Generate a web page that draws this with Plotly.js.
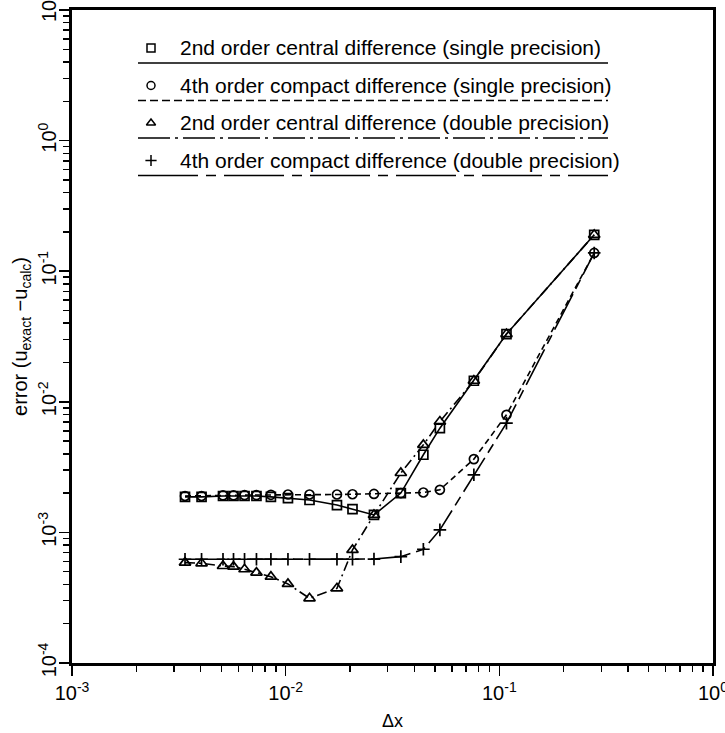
<!DOCTYPE html>
<html>
<head>
<meta charset="utf-8">
<script src="https://cdn.plot.ly/plotly-3.0.1.min.js"></script>
<style>
  html, body { margin: 0; padding: 0; background: #fff; }
  #chart { width: 725px; height: 733px; }
</style>
</head>
<body>
<div id="chart"></div>
<script>
// ---- data ----
const dx = [0.00338, 0.00404, 0.00509, 0.0057, 0.00642, 0.0073, 0.00853, 0.01025, 0.01293,
            0.01738, 0.02055, 0.0259, 0.0346, 0.0441, 0.0527, 0.076, 0.108, 0.278];

const err2ndSingle = [1.87e-3, 1.87e-3, 1.9e-3, 1.9e-3, 1.9e-3, 1.9e-3, 1.87e-3, 1.83e-3, 1.77e-3,
                      1.62e-3, 1.51e-3, 1.36e-3, 2.0e-3, 3.93e-3, 6.28e-3, 1.45e-2, 3.3e-2, 0.19];

const err4thSingle = [1.9e-3, 1.9e-3, 1.92e-3, 1.92e-3, 1.93e-3, 1.93e-3, 1.94e-3, 1.95e-3, 1.95e-3,
                      1.95e-3, 1.96e-3, 1.97e-3, 2.0e-3, 2.02e-3, 2.12e-3, 3.64e-3, 7.95e-3, 0.138];

const err2ndDouble = [5.87e-4, 5.8e-4, 5.53e-4, 5.47e-4, 5.22e-4, 4.92e-4, 4.58e-4, 4.03e-4, 3.13e-4,
                      3.73e-4, 7.34e-4, 1.36e-3, 2.85e-3, 4.68e-3, 7.06e-3, 1.45e-2, 3.3e-2, 0.19];

const err4thDouble = [6.23e-4, 6.23e-4, 6.23e-4, 6.23e-4, 6.23e-4, 6.23e-4, 6.23e-4, 6.23e-4, 6.23e-4,
                      6.23e-4, 6.23e-4, 6.25e-4, 6.52e-4, 7.43e-4, 1.045e-3, 2.76e-3, 6.87e-3, 0.138];

const seriesNames = [
  '2nd order central difference (single precision)',
  '4th order compact difference (single precision)',
  '2nd order central difference (double precision)',
  '4th order compact difference (double precision)'
];

const xTickVals = [0.001, 0.01, 0.1, 1];
const xTickText = ['10<sup>-3</sup>', '10<sup>-2</sup>', '10<sup>-1</sup>', '10<sup>0</sup>'];
const yTickVals = [1e-4, 1e-3, 1e-2, 1e-1, 1, 10];
const yTickText = ['10<sup>-4</sup>', '10<sup>-3</sup>', '10<sup>-2</sup>', '10<sup>-1</sup>', '10<sup>0</sup>', '10<sup>1</sup>'];

// ---- styles ----
const FONT = 'Liberation Sans, Arial, sans-serif';
const symbols = ['square-open', 'circle-open', 'triangle-up-open', 'cross-thin-open'];
const plotDash = ['solid', '6px,4px', '10px,4px,2px,4px', '40px,6px,10px,6px'];
const legendDash = ['solid', '8px,4px', '32px,5px,3px,5px', '60px,8px,10px,8px'];
const seriesY = [err2ndSingle, err4thSingle, err2ndDouble, err4thDouble];

const traces = seriesY.map((ys, i) => ({
  x: dx, y: ys, type: 'scatter', mode: 'lines+markers', name: seriesNames[i],
  line: { color: '#000', width: 1.6, dash: plotDash[i] },
  marker: { symbol: symbols[i], size: i === 2 ? 10 : 9, color: '#000', line: { color: '#000', width: 1.7 } },
  showlegend: false, hoverinfo: 'skip'
}));

// ---- hand-made legend (marker, text, line underneath) ----
const W = 725, H = 733, ML = 72, MR = 12, MT = 10, MB = 70;
const PW = W - ML - MR, PH = H - MT - MB;
const px2x = p => (p - ML) / PW;
const py2y = p => (H - MB - p) / PH;
const rowText0 = 48, rowLine0 = 63, rowStep = 37.5;

const legendMarkers = {
  x: seriesNames.map(() => px2x(151)),
  y: seriesNames.map((_, i) => py2y(rowText0 + i * rowStep)),
  xaxis: 'x2', yaxis: 'y2', type: 'scatter', mode: 'markers',
  marker: { symbol: symbols, size: 8, color: '#000', line: { color: '#000', width: 1.5 } },
  showlegend: false, hoverinfo: 'skip'
};
traces.push(legendMarkers);

const shapes = seriesNames.map((_, i) => ({
  type: 'line', xref: 'paper', yref: 'paper',
  x0: px2x(138), x1: px2x(608),
  y0: py2y(rowLine0 + i * rowStep), y1: py2y(rowLine0 + i * rowStep),
  line: { color: '#000', width: 1.5, dash: legendDash[i] }
}));

const annotations = seriesNames.map((t, i) => ({
  text: t, xref: 'paper', yref: 'paper', x: px2x(178), y: py2y(rowText0 + i * rowStep),
  xanchor: 'left', yanchor: 'middle', showarrow: false,
  font: { family: FONT, size: 21, color: '#000' }
}));

const axisCommon = {
  type: 'log', showline: true, linewidth: 3, linecolor: '#000', mirror: true,
  ticks: 'outside', ticklen: 10, tickwidth: 1.5, tickcolor: '#000',
  showgrid: false, zeroline: false, ticklabeloverflow: 'allow',
  tickfont: { family: FONT, size: 20, color: '#000' },
  minor: { ticks: 'outside', ticklen: 6, tickwidth: 1.5, tickcolor: '#000', dtick: 'D1', showgrid: false }
};

const layout = {
  width: W, height: H,
  margin: { l: ML, r: MR, t: MT, b: MB },
  paper_bgcolor: '#fff', plot_bgcolor: '#fff',
  font: { family: FONT, color: '#000' },
  xaxis: Object.assign({}, axisCommon, {
    range: [-3, 0], tickmode: 'array', tickvals: xTickVals, ticktext: xTickText,
    title: { text: 'Δx', font: { family: FONT, size: 18 }, standoff: 12 }
  }),
  yaxis: Object.assign({}, axisCommon, {
    range: [-4, 1], tickmode: 'array', tickvals: yTickVals, ticktext: yTickText, tickangle: -90,
    ticklabelstandoff: -5,
    title: { text: 'error (u<sub>exact</sub> −u<sub>calc</sub>)', font: { family: FONT, size: 20 }, standoff: 2 }
  }),
  xaxis2: { overlaying: 'x', range: [0, 1], visible: false, fixedrange: true },
  yaxis2: { overlaying: 'y', range: [0, 1], visible: false, fixedrange: true },
  shapes: shapes,
  annotations: annotations,
  showlegend: false
};

Plotly.newPlot('chart', traces, layout, { displayModeBar: false, staticPlot: true });
</script>
</body>
</html>
